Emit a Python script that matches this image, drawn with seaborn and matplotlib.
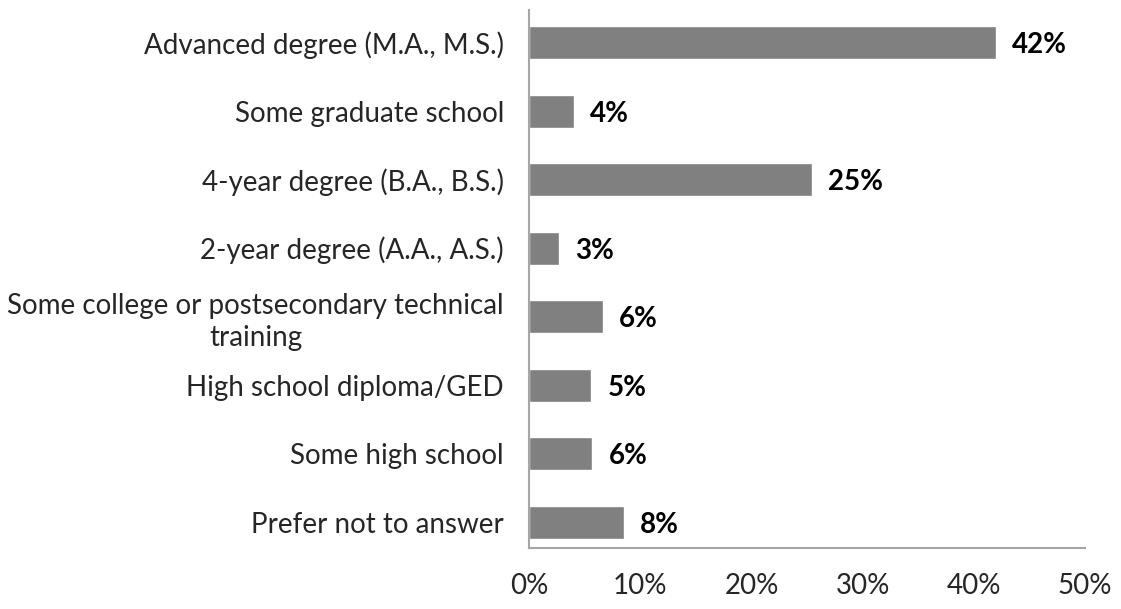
import matplotlib
matplotlib.use("Agg")
import matplotlib.pyplot as plt
import seaborn as sns
import pandas as pd

# Education levels, top to bottom
categories = [
    "Advanced degree (M.A., M.S.)",
    "Some graduate school",
    "4-year degree (B.A., B.S.)",
    "2-year degree (A.A., A.S.)",
    "Some college or postsecondary technical\ntraining",
    "High school diploma/GED",
    "Some high school",
    "Prefer not to answer",
]
values = [42.0, 4.0, 25.4, 2.7, 6.6, 5.6, 5.7, 8.5]
labels = ["42%", "4%", "25%", "3%", "6%", "5%", "6%", "8%"]
ticks = [0, 10, 20, 30, 40, 50]
tick_labels = ["0%", "10%", "20%", "30%", "40%", "50%"]

df = pd.DataFrame({"category": categories, "value": values})

sns.set_style("white")
plt.rcParams["font.family"] = ["Lato", "DejaVu Sans"]

fig = plt.figure(figsize=(11.21, 6.09), dpi=100)
ax = fig.add_axes([0.472, 0.100, 0.496, 0.884])

sns.barplot(data=df, x="value", y="category", color="#808080",
            saturation=1, width=0.48, ax=ax)

# value labels next to the bars
for i, (v, lab) in enumerate(zip(values, labels)):
    ax.text(v + 1.45, i, lab, va="center_baseline", ha="left",
            fontsize=20, fontweight="bold", color="black")

ax.set_xlim(0, 50)
ax.set_ylim(7.38, -0.48)
ax.set_xticks(ticks)
ax.set_xticklabels(tick_labels, fontsize=20)
ax.tick_params(axis="x", length=0, pad=18)
ax.tick_params(axis="y", length=0, pad=18, labelsize=20)
for lab in ax.get_yticklabels():
    lab.set_horizontalalignment("right")
    lab.set_multialignment("center")
    lab.set_linespacing(1.3)
ax.set_xlabel("")
ax.set_ylabel("")

for side in ["top", "right"]:
    ax.spines[side].set_visible(False)
for side in ["left", "bottom"]:
    ax.spines[side].set_color("#a6a6a6")
    ax.spines[side].set_linewidth(1.5)

fig.savefig("out.png", dpi=100)
